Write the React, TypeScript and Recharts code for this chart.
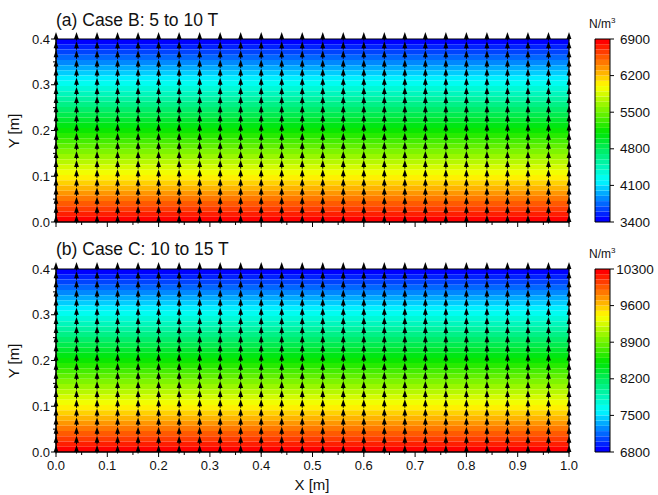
import React from "react";
import { ComposedChart, XAxis, YAxis, Scatter, ReferenceArea } from "recharts";

// Vector field grid (every arrow points along +Y)
const arrowX = [
  0, 0.04, 0.08, 0.12, 0.16, 0.2, 0.24, 0.28, 0.32, 0.36, 0.4, 0.44, 0.48,
  0.52, 0.56, 0.6, 0.64, 0.68, 0.72, 0.76, 0.8, 0.84, 0.88, 0.92, 0.96, 1.0,
];
const arrowY = [
  0, 0.02, 0.04, 0.06, 0.08, 0.1, 0.12, 0.14, 0.16, 0.18, 0.2, 0.22, 0.24,
  0.26, 0.28, 0.3, 0.32, 0.34, 0.36, 0.38, 0.4,
];

// Force density (N/m3) read along Y at the arrow rows
const fieldB = [
  6900, 6725, 6550, 6375, 6200, 6025, 5850, 5675, 5500, 5325, 5150, 4975,
  4800, 4625, 4450, 4275, 4100, 3925, 3750, 3575, 3400,
];
const fieldC = [
  10300, 10125, 9950, 9775, 9600, 9425, 9250, 9075, 8900, 8725, 8550, 8375,
  8200, 8025, 7850, 7675, 7500, 7325, 7150, 6975, 6800,
];

// Contour levels
const levelsB = [
  3400, 3500, 3600, 3700, 3800, 3900, 4000, 4100, 4200, 4300, 4400, 4500,
  4600, 4700, 4800, 4900, 5000, 5100, 5200, 5300, 5400, 5500, 5600, 5700,
  5800, 5900, 6000, 6100, 6200, 6300, 6400, 6500, 6600, 6700, 6800, 6900,
];
const levelsC = [
  6800, 6900, 7000, 7100, 7200, 7300, 7400, 7500, 7600, 7700, 7800, 7900,
  8000, 8100, 8200, 8300, 8400, 8500, 8600, 8700, 8800, 8900, 9000, 9100,
  9200, 9300, 9400, 9500, 9600, 9700, 9800, 9900, 10000, 10100, 10200, 10300,
];

const cbTicksB = [3400, 4100, 4800, 5500, 6200, 6900];
const cbTicksC = [6800, 7500, 8200, 8900, 9600, 10300];
const xTicks = [
  0, 0.05, 0.1, 0.15, 0.2, 0.25, 0.3, 0.35, 0.4, 0.45, 0.5, 0.55, 0.6, 0.65,
  0.7, 0.75, 0.8, 0.85, 0.9, 0.95, 1.0,
];
const yTicks = [0, 0.05, 0.1, 0.15, 0.2, 0.25, 0.3, 0.35, 0.4];

const FONT = "'Liberation Sans', Arial, sans-serif";

const arrows = arrowX.flatMap((x) => arrowY.map((y) => ({ x, y })));

// rainbow palette, blue -> cyan -> green -> yellow -> red
const stops: [number, number[]][] = [
  [0, [0, 0, 255]],
  [0.11, [0, 128, 255]],
  [0.22, [0, 255, 255]],
  [0.36, [0, 240, 128]],
  [0.49, [0, 230, 0]],
  [0.62, [128, 245, 0]],
  [0.75, [255, 255, 0]],
  [0.875, [255, 128, 0]],
  [1, [255, 0, 0]],
];

function cmap(t: number) {
  for (let i = 0; i < stops.length - 1; i++) {
    const [t0, c0] = stops[i];
    const [t1, c1] = stops[i + 1];
    if (t <= t1) {
      const f = (t - t0) / (t1 - t0);
      const c = c0.map((v, j) => Math.round(v + (c1[j] - v) * f));
      return `rgb(${c[0]},${c[1]},${c[2]})`;
    }
  }
  return "rgb(255,0,0)";
}

// y position where the profile crosses value v
function yAt(field: number[], v: number) {
  for (let i = 0; i < field.length - 1; i++) {
    const a = field[i];
    const b = field[i + 1];
    if ((v <= a && v >= b) || (v >= a && v <= b)) {
      const f = a === b ? 0 : (v - a) / (b - a);
      return arrowY[i] + (arrowY[i + 1] - arrowY[i]) * f;
    }
  }
  return v > field[0] ? 0 : 0.4;
}

function bandsFor(levels: number[]) {
  return levels.slice(0, -1).map((lo, k) => ({
    lo,
    hi: levels[k + 1],
    color: cmap(k / (levels.length - 2)),
  }));
}

function Arrow(props: any) {
  const { cx, cy } = props;
  if (cx == null || cy == null) return null;
  return (
    <g>
      <line x1={cx} y1={cy + 1.5} x2={cx} y2={cy - 2} stroke="#000" strokeWidth={1} />
      <path d={`M${cx - 2.4},${cy} L${cx + 2.4},${cy} L${cx},${cy - 7} Z`} fill="#000" />
    </g>
  );
}

const isMajor = (v: number) => Math.abs(v * 10 - Math.round(v * 10)) < 1e-6;

function XTick(props: any) {
  const { x, y, payload, showLabel } = props;
  const major = isMajor(payload.value);
  return (
    <g>
      <line x1={x} y1={y} x2={x} y2={y + (major ? 5 : 3)} stroke="#000" />
      {showLabel && major && (
        <text x={x} y={y + 18} textAnchor="middle" fontSize={13} fontFamily={FONT} fill="#111">
          {payload.value.toFixed(1)}
        </text>
      )}
    </g>
  );
}

function YTick(props: any) {
  const { x, y, payload } = props;
  const major = isMajor(payload.value);
  return (
    <g>
      <line x1={x} y1={y} x2={x - (major ? 5 : 3)} y2={y} stroke="#000" />
      {major && (
        <text x={x - 6} y={y + 4.5} textAnchor="end" fontSize={13} fontFamily={FONT} fill="#111">
          {payload.value.toFixed(1)}
        </text>
      )}
    </g>
  );
}

function CbTick(props: any) {
  const { x, y, payload } = props;
  return (
    <g>
      <line x1={x} y1={y} x2={x + 4} y2={y} stroke="#000" />
      <text x={x + 25} y={y + 4.5} textAnchor="middle" fontSize={13.5} fontFamily={FONT} fill="#111">
        {payload.value}
      </text>
    </g>
  );
}

function FieldPanel({ top, height, field, levels, showXLabels }: any) {
  const bands = bandsFor(levels);
  return (
    <div style={{ position: "absolute", left: 0, top, width: 580, height }}>
      <ComposedChart width={580} height={height} margin={{ top: 39, right: 11, bottom: 0, left: 12 }}>
        <XAxis
          type="number"
          dataKey="x"
          domain={[0, 1]}
          ticks={xTicks}
          interval={0}
          height={height - 39 - 183}
          axisLine={{ stroke: "#000" }}
          tickLine={false}
          tickSize={0}
          tickMargin={0}
          tick={(p: any) => <XTick {...p} showLabel={showXLabels} />}
        />
        <YAxis
          type="number"
          dataKey="y"
          domain={[0, 0.4]}
          ticks={yTicks}
          interval={0}
          width={44}
          axisLine={{ stroke: "#000" }}
          tickLine={false}
          tickSize={0}
          tickMargin={0}
          tick={(p: any) => <YTick {...p} />}
        />
        {bands.map((b: any) => (
          <ReferenceArea
            key={b.lo}
            x1={0}
            x2={1}
            y1={yAt(field, b.hi)}
            y2={yAt(field, b.lo)}
            fill={b.color}
            fillOpacity={1}
            stroke="none"
          />
        ))}
        <ReferenceArea x1={0} x2={1} y1={0} y2={0.4} fill="none" stroke="#000" strokeWidth={1} />
        <Scatter data={arrows} dataKey="y" shape={Arrow} isAnimationActive={false} />
      </ComposedChart>
    </div>
  );
}

function ColorBar({ top, height, levels, ticks }: any) {
  const bands = bandsFor(levels);
  const lo = levels[0];
  const hi = levels[levels.length - 1];
  return (
    <div style={{ position: "absolute", left: 580, top, width: 78, height }}>
      <ComposedChart
        width={78}
        height={height}
        margin={{ top: 39, right: 0, bottom: height - 39 - 183, left: 15 }}
      >
        <XAxis type="number" dataKey="x" domain={[0, 1]} allowDataOverflow hide />
        <YAxis
          type="number"
          dataKey="v"
          orientation="right"
          domain={[lo, hi]}
          allowDataOverflow
          ticks={ticks}
          interval={0}
          width={48}
          axisLine={false}
          tickLine={false}
          tickSize={0}
          tickMargin={0}
          tick={(p: any) => <CbTick {...p} />}
        />
        {bands.map((b: any) => (
          <ReferenceArea
            key={b.lo}
            x1={0}
            x2={1}
            y1={b.lo}
            y2={b.hi}
            fill={b.color}
            fillOpacity={1}
            stroke="none"
            ifOverflow="extendDomain"
          />
        ))}
        <ReferenceArea
          x1={0}
          x2={1}
          y1={lo}
          y2={hi}
          fill="none"
          stroke="#000"
          strokeWidth={1}
          ifOverflow="extendDomain"
        />
        <Scatter
          data={[{ x: 0, v: lo }, { x: 1, v: hi }]}
          dataKey="v"
          shape={() => null}
          isAnimationActive={false}
        />
      </ComposedChart>
    </div>
  );
}

export default function App() {
  return (
    <div
      style={{
        position: "absolute",
        left: 0,
        top: 0,
        width: 658,
        height: 495,
        background: "#fff",
        overflow: "hidden",
      }}
    >
      <FieldPanel top={0} height={232} field={fieldB} levels={levelsB} showXLabels={false} />
      <ColorBar top={0} height={232} levels={levelsB} ticks={cbTicksB} />
      <FieldPanel top={230} height={265} field={fieldC} levels={levelsC} showXLabels={true} />
      <ColorBar top={230} height={265} levels={levelsC} ticks={cbTicksC} />
      <svg
        width={658}
        height={495}
        style={{ position: "absolute", left: 0, top: 0, pointerEvents: "none" }}
        fontFamily={FONT}
        fill="#111"
      >
        <text x={56} y={26} fontSize={17.5}>(a) Case B: 5 to 10 T</text>
        <text x={56} y={255} fontSize={17.5}>(b) Case C: 10 to 15 T</text>
        <text transform="translate(19,131) rotate(-90)" textAnchor="middle" fontSize={15}>Y [m]</text>
        <text transform="translate(19,361) rotate(-90)" textAnchor="middle" fontSize={15}>Y [m]</text>
        <text x={312} y={490} textAnchor="middle" fontSize={15}>X [m]</text>
        <text x={589} y={28} fontSize={12}>
          N/m<tspan dy={-5} fontSize={8}>3</tspan>
        </text>
        <text x={589} y={258} fontSize={12}>
          N/m<tspan dy={-5} fontSize={8}>3</tspan>
        </text>
      </svg>
    </div>
  );
}
